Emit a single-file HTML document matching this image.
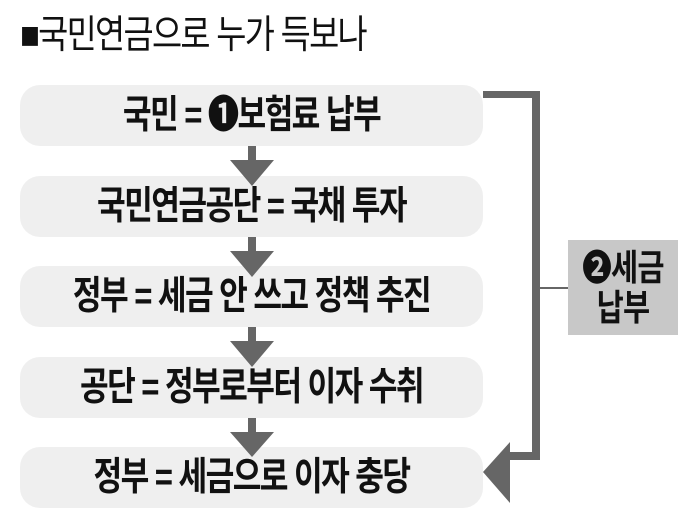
<!DOCTYPE html>
<html><head><meta charset="utf-8"><style>
html,body{margin:0;padding:0;background:#fff;width:700px;height:521px;overflow:hidden;position:relative;font-family:"Liberation Sans","Noto Sans CJK KR",sans-serif;}
.t{position:absolute;left:20px;top:12px;font-size:39px;line-height:48px;color:#111;letter-spacing:-2px;white-space:nowrap;transform:scaleX(0.84);transform-origin:left center;}
.b{position:absolute;left:20px;width:463px;height:61px;background:#efefef;border-radius:20px;}
.b span{position:absolute;left:-100px;right:-100px;top:0;line-height:61px;text-align:center;font-weight:bold;font-size:39px;color:#111;letter-spacing:-2px;white-space:nowrap;transform:scaleX(0.8);}
.g{position:absolute;left:568px;top:240px;width:110px;height:95px;background:#c8c8c8;}
.g div{position:absolute;left:-30px;right:-30px;text-align:center;font-weight:bold;font-size:36px;line-height:40px;color:#111;letter-spacing:-1px;transform:scaleX(0.82);top:8px;}
</style></head><body>
<div class="t">■국민연금으로 누가 득보나</div>
<div class="b" style="top:85px"><span>국민 = ❶보험료 납부</span></div>
<div class="b" style="top:176px"><span>국민연금공단 = 국채 투자</span></div>
<div class="b" style="top:266px"><span>정부 = 세금 안 쓰고 정책 추진</span></div>
<div class="b" style="top:357px"><span>공단 = 정부로부터 이자 수취</span></div>
<div class="b" style="top:447px"><span>정부 = 세금으로 이자 충당</span></div>
<svg width="700" height="521" style="position:absolute;left:0;top:0">
<g fill="#666">
<rect x="248" y="146" width="8" height="16"/><polygon points="230,160 274,160 252,186"/>
<rect x="248" y="237" width="8" height="16"/><polygon points="230,251 274,251 252,277"/>
<rect x="248" y="327" width="8" height="16"/><polygon points="230,341 274,341 252,367"/>
<rect x="248" y="418" width="8" height="16"/><polygon points="230,432 274,432 252,457"/>
<rect x="483" y="91" width="57" height="7"/>
<rect x="532" y="91" width="8" height="369"/>
<rect x="505" y="452" width="35" height="8"/>
<polygon points="483,472 510,442 510,503"/>
</g>
<line x1="540" y1="288" x2="568" y2="288" stroke="#333" stroke-width="1.5"/>
</svg>
<div class="g"><div>❷세금<br>납부</div></div>
</body></html>
